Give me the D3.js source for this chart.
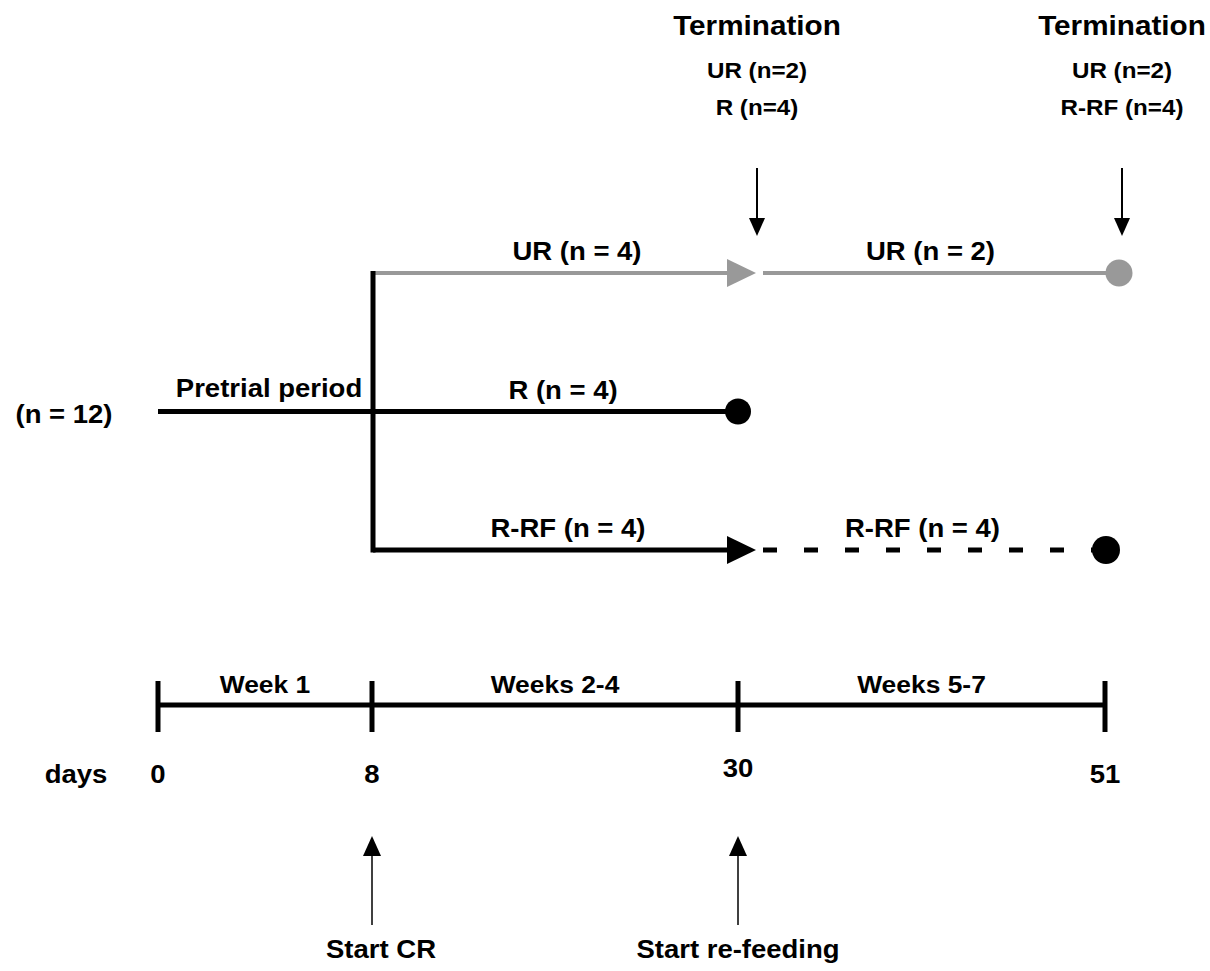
<!DOCTYPE html>
<html><head><meta charset="utf-8">
<script src="https://cdn.jsdelivr.net/npm/d3@7"></script>
<style>
body{margin:0;background:#fff}
svg{display:block}
text{font-family:"Liberation Sans",Arial,Helvetica,sans-serif;font-weight:bold;fill:#000}
</style>
</head><body><svg id="c" width="1210" height="971"></svg>
<script>
// ---- data ----
const dayTicks = [0, 8, 30, 51];
const periodLabels = ["Week 1", "Weeks 2-4", "Weeks 5-7"];
const groups = ["UR", "R", "R-RF"];
const nPhase1 = [4, 4, 4];
const nPhase2 = [2, null, 4];
const totalN = 12;
const pretrialLabel = "Pretrial period";
const terminationDays = [30, 51];
const terminationTitle = "Termination";
const terminationLines = [["UR (n=2)", "R (n=4)"], ["UR (n=2)", "R-RF (n=4)"]];
const eventDays = [8, 30];
const eventLabels = ["Start CR", "Start re-feeding"];

// ---- styles / layout ----
const groupColor = {"UR": "#999999", "R": "#000000", "R-RF": "#000000"};
const phase2Dash = {"UR": null, "R-RF": "14,27"};
const phase1LabelDx = {"UR": 22, "R": 8, "R-RF": 13};
const phase2LabelDx = {"UR": 9, "R-RF": 1};
const phase2EndDx = {"UR": 14, "R-RF": 1};
const SX = 1.1;

const svg = d3.select("#c");
const x = d3.scaleLinear().domain(dayTicks).range([158, 372, 738, 1105]);
const y = d3.scalePoint().domain(groups).range([273, 550]);

function label(str, cx, cy, size, anchor) {
  return svg.append("text")
    .attr("transform", `translate(${cx},${cy}) scale(${SX},1)`)
    .attr("text-anchor", anchor || "middle")
    .style("font-size", size + "px")
    .text(str);
}
function tri(cx, cy, len, half, dir, color) {
  // dir: "right", "down", "up" ; (cx,cy) = tip
  let p;
  if (dir === "right") p = [[cx, cy], [cx - len, cy - half], [cx - len, cy + half]];
  else if (dir === "down") p = [[cx, cy], [cx - half, cy - len], [cx + half, cy - len]];
  else p = [[cx, cy], [cx - half, cy + len], [cx + half, cy + len]];
  svg.append("path").attr("d", d3.line()(p) + "Z").attr("fill", color);
}

// ---- pretrial ----
const yPre = y("R");
svg.append("line").attr("x1", x(0)).attr("x2", x(8)).attr("y1", yPre).attr("y2", yPre)
  .attr("stroke", "#000").attr("stroke-width", 5);
label(pretrialLabel, (x(0) + x(8)) / 2 + 4, yPre - 15, 25);
label(`(n = ${totalN})`, 64, yPre + 11, 25);

// ---- phase 1 ----
groups.forEach((g, i) => {
  const yy = y(g);
  const hasArrow = nPhase2[i] !== null;
  const tip = x(30) + 18;
  svg.append("line").attr("x1", x(8) + 1).attr("x2", hasArrow ? tip - 20 : x(30)).attr("y1", yy).attr("y2", yy)
    .attr("stroke", groupColor[g]).attr("stroke-width", g === "UR" ? 4 : 5);
  if (hasArrow) tri(tip, yy, 29, 14, "right", groupColor[g]);
  else svg.append("circle").attr("cx", x(30)).attr("cy", yy).attr("r", 13).attr("fill", groupColor[g]);
  label(`${g} (n = ${nPhase1[i]})`, (x(8) + x(30)) / 2 + phase1LabelDx[g], yy - 13, 25);
});
// vertical split line
svg.append("line").attr("x1", x(8) + 1).attr("x2", x(8) + 1).attr("y1", y("UR") - 2).attr("y2", y("R-RF") + 2.5)
  .attr("stroke", "#000").attr("stroke-width", 5);

// ---- phase 2 ----
groups.forEach((g, i) => {
  if (nPhase2[i] === null) return;
  const yy = y(g);
  const end = x(51) + phase2EndDx[g];
  svg.append("line").attr("x1", x(30) + 25).attr("x2", end).attr("y1", yy).attr("y2", yy)
    .attr("stroke", groupColor[g]).attr("stroke-width", g === "UR" ? 4 : 5)
    .attr("stroke-dasharray", phase2Dash[g]);
  svg.append("circle").attr("cx", end).attr("cy", yy).attr("r", g === "UR" ? 13.5 : 14).attr("fill", groupColor[g]);
  label(`${g} (n = ${nPhase2[i]})`, (x(30) + x(51)) / 2 + phase2LabelDx[g], yy - 13, 25);
});

// ---- terminations ----
terminationDays.forEach((d, i) => {
  const cx = x(d) + (i === 0 ? 19 : 17);
  label(terminationTitle, cx, 35, 27);
  terminationLines[i].forEach((t, j) => label(t, cx, 78 + j * 37, 22));
  svg.append("line").attr("x1", cx).attr("x2", cx).attr("y1", 168).attr("y2", 222)
    .attr("stroke", "#000").attr("stroke-width", 2);
  tri(cx, 236, 18, 8, "down", "#000");
});

// ---- timeline ----
const yT = 705;
svg.append("line").attr("x1", x(0)).attr("x2", x(51)).attr("y1", yT).attr("y2", yT)
  .attr("stroke", "#000").attr("stroke-width", 5);
svg.selectAll(".tick").data(dayTicks).join("line")
  .attr("x1", d => x(d)).attr("x2", d => x(d)).attr("y1", yT - 24).attr("y2", yT + 27)
  .attr("stroke", "#000").attr("stroke-width", 5);
periodLabels.forEach((p, i) => label(p, (x(dayTicks[i]) + x(dayTicks[i + 1])) / 2, yT - 12, 24));
label("days", 76, 783, 25);
dayTicks.forEach(d => label(String(d), x(d), d === 30 ? 777 : 783, 25));

// ---- events ----
eventDays.forEach((d, i) => {
  const cx = x(d);
  svg.append("line").attr("x1", cx).attr("x2", cx).attr("y1", 925).attr("y2", 850)
    .attr("stroke", "#000").attr("stroke-width", 1.5);
  tri(cx, 836, 20, 9, "up", "#000");
  label(eventLabels[i], cx + (i === 0 ? 9 : 0), 958, 25);
});
</script>
</body></html>
